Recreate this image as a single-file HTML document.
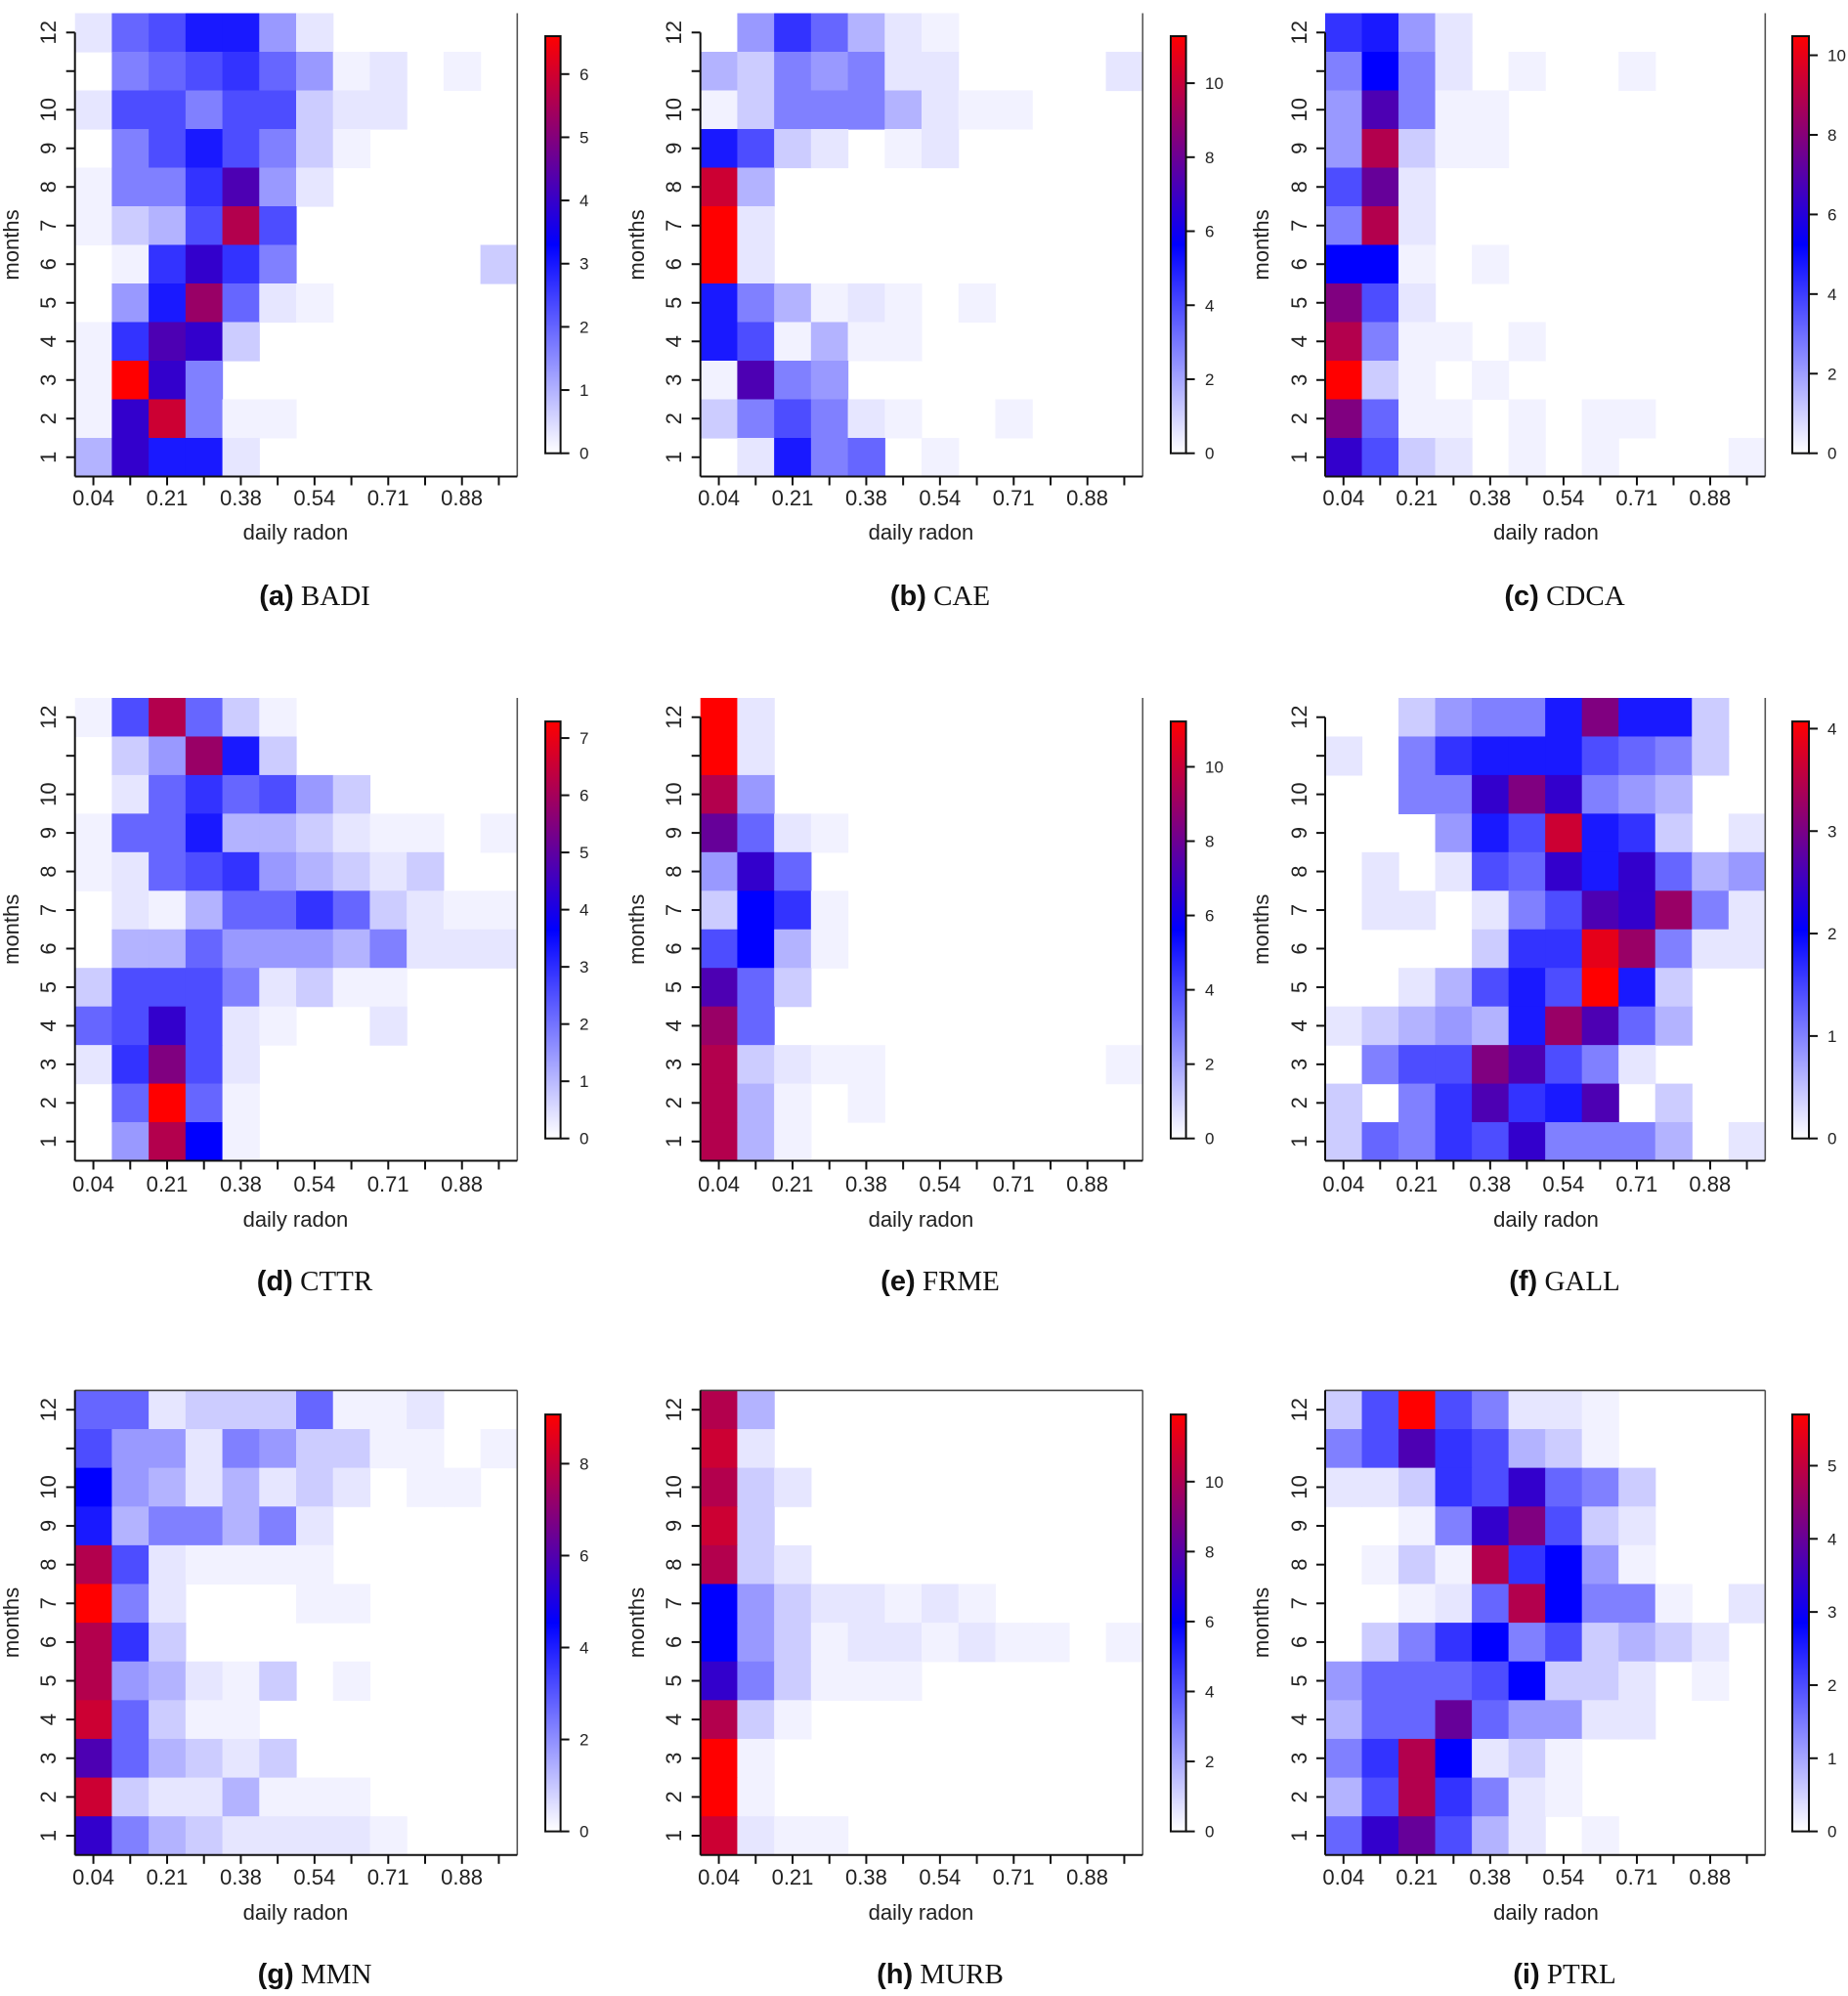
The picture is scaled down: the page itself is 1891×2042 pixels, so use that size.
<!DOCTYPE html>
<html><head><meta charset="utf-8"><style>
html,body{margin:0;padding:0;background:#fff}
svg{display:block}
.t{font-family:"Liberation Sans",sans-serif;font-size:22px;fill:#222}
.c{font-family:"Liberation Sans",sans-serif;font-size:17px;fill:#222}
.cap{font-size:29px;fill:#111}
.b{font-family:"Liberation Sans",sans-serif;font-weight:bold}
.s{font-family:"Liberation Serif",serif}
</style></head><body>
<svg id="s" xmlns="http://www.w3.org/2000/svg" width="1891" height="2042" viewBox="0 0 1891 2042">
<defs><linearGradient id="cg" x1="0" y1="1" x2="0" y2="0">
<stop offset="0" stop-color="#fff"/><stop offset="0.5" stop-color="#00f"/><stop offset="1" stop-color="#f00"/></linearGradient></defs>
<g id="gfx"></g>
<g class="t" text-anchor="middle">
<text x="95.6" y="517">0.04</text><text x="171" y="517">0.21</text><text x="246.4" y="517">0.38</text><text x="321.8" y="517">0.54</text><text x="397.2" y="517">0.71</text><text x="472.6" y="517">0.88</text>
<text x="735.6" y="517">0.04</text><text x="811" y="517">0.21</text><text x="886.4" y="517">0.38</text><text x="961.8" y="517">0.54</text><text x="1037.2" y="517">0.71</text><text x="1112.6" y="517">0.88</text>
<text x="1374.8" y="517">0.04</text><text x="1449.8" y="517">0.21</text><text x="1524.8" y="517">0.38</text><text x="1599.8" y="517">0.54</text><text x="1674.8" y="517">0.71</text><text x="1749.8" y="517">0.88</text>
<text x="95.6" y="1219">0.04</text><text x="171" y="1219">0.21</text><text x="246.4" y="1219">0.38</text><text x="321.8" y="1219">0.54</text><text x="397.2" y="1219">0.71</text><text x="472.6" y="1219">0.88</text>
<text x="735.6" y="1219">0.04</text><text x="811" y="1219">0.21</text><text x="886.4" y="1219">0.38</text><text x="961.8" y="1219">0.54</text><text x="1037.2" y="1219">0.71</text><text x="1112.6" y="1219">0.88</text>
<text x="1374.8" y="1219">0.04</text><text x="1449.8" y="1219">0.21</text><text x="1524.8" y="1219">0.38</text><text x="1599.8" y="1219">0.54</text><text x="1674.8" y="1219">0.71</text><text x="1749.8" y="1219">0.88</text>
<text x="95.6" y="1928">0.04</text><text x="171" y="1928">0.21</text><text x="246.4" y="1928">0.38</text><text x="321.8" y="1928">0.54</text><text x="397.2" y="1928">0.71</text><text x="472.6" y="1928">0.88</text>
<text x="735.6" y="1928">0.04</text><text x="811" y="1928">0.21</text><text x="886.4" y="1928">0.38</text><text x="961.8" y="1928">0.54</text><text x="1037.2" y="1928">0.71</text><text x="1112.6" y="1928">0.88</text>
<text x="1374.8" y="1928">0.04</text><text x="1449.8" y="1928">0.21</text><text x="1524.8" y="1928">0.38</text><text x="1599.8" y="1928">0.54</text><text x="1674.8" y="1928">0.71</text><text x="1749.8" y="1928">0.88</text>
<text x="302.4" y="552">daily radon</text><text x="942.4" y="552">daily radon</text><text x="1582" y="552">daily radon</text>
<text x="302.4" y="1255">daily radon</text><text x="942.4" y="1255">daily radon</text><text x="1582" y="1255">daily radon</text>
<text x="302.4" y="1964">daily radon</text><text x="942.4" y="1964">daily radon</text><text x="1582" y="1964">daily radon</text>
<text transform="translate(19,250.5) rotate(-90)">months</text><text transform="translate(659,250.5) rotate(-90)">months</text><text transform="translate(1298,250.5) rotate(-90)">months</text>
<text transform="translate(19,950.8) rotate(-90)">months</text><text transform="translate(659,950.8) rotate(-90)">months</text><text transform="translate(1298,950.8) rotate(-90)">months</text>
<text transform="translate(19,1660) rotate(-90)">months</text><text transform="translate(659,1660) rotate(-90)">months</text><text transform="translate(1298,1660) rotate(-90)">months</text>
<g transform="translate(57,0)"><text transform="translate(0,467.75) rotate(-90)">1</text><text transform="translate(0,428.25) rotate(-90)">2</text><text transform="translate(0,388.75) rotate(-90)">3</text><text transform="translate(0,349.25) rotate(-90)">4</text><text transform="translate(0,309.75) rotate(-90)">5</text><text transform="translate(0,270.25) rotate(-90)">6</text><text transform="translate(0,230.75) rotate(-90)">7</text><text transform="translate(0,191.25) rotate(-90)">8</text><text transform="translate(0,151.75) rotate(-90)">9</text><text transform="translate(0,112.25) rotate(-90)">10</text><text transform="translate(0,33.25) rotate(-90)">12</text></g>
<g transform="translate(697,0)"><text transform="translate(0,467.75) rotate(-90)">1</text><text transform="translate(0,428.25) rotate(-90)">2</text><text transform="translate(0,388.75) rotate(-90)">3</text><text transform="translate(0,349.25) rotate(-90)">4</text><text transform="translate(0,309.75) rotate(-90)">5</text><text transform="translate(0,270.25) rotate(-90)">6</text><text transform="translate(0,230.75) rotate(-90)">7</text><text transform="translate(0,191.25) rotate(-90)">8</text><text transform="translate(0,151.75) rotate(-90)">9</text><text transform="translate(0,112.25) rotate(-90)">10</text><text transform="translate(0,33.25) rotate(-90)">12</text></g>
<g transform="translate(1337,0)"><text transform="translate(0,467.75) rotate(-90)">1</text><text transform="translate(0,428.25) rotate(-90)">2</text><text transform="translate(0,388.75) rotate(-90)">3</text><text transform="translate(0,349.25) rotate(-90)">4</text><text transform="translate(0,309.75) rotate(-90)">5</text><text transform="translate(0,270.25) rotate(-90)">6</text><text transform="translate(0,230.75) rotate(-90)">7</text><text transform="translate(0,191.25) rotate(-90)">8</text><text transform="translate(0,151.75) rotate(-90)">9</text><text transform="translate(0,112.25) rotate(-90)">10</text><text transform="translate(0,33.25) rotate(-90)">12</text></g>
<g transform="translate(57,0)"><text transform="translate(0,1167.8) rotate(-90)">1</text><text transform="translate(0,1128.3) rotate(-90)">2</text><text transform="translate(0,1088.9) rotate(-90)">3</text><text transform="translate(0,1049.4) rotate(-90)">4</text><text transform="translate(0,1010) rotate(-90)">5</text><text transform="translate(0,970.5) rotate(-90)">6</text><text transform="translate(0,931) rotate(-90)">7</text><text transform="translate(0,891.6) rotate(-90)">8</text><text transform="translate(0,852.1) rotate(-90)">9</text><text transform="translate(0,812.6) rotate(-90)">10</text><text transform="translate(0,733.7) rotate(-90)">12</text></g>
<g transform="translate(697,0)"><text transform="translate(0,1167.8) rotate(-90)">1</text><text transform="translate(0,1128.3) rotate(-90)">2</text><text transform="translate(0,1088.9) rotate(-90)">3</text><text transform="translate(0,1049.4) rotate(-90)">4</text><text transform="translate(0,1010) rotate(-90)">5</text><text transform="translate(0,970.5) rotate(-90)">6</text><text transform="translate(0,931) rotate(-90)">7</text><text transform="translate(0,891.6) rotate(-90)">8</text><text transform="translate(0,852.1) rotate(-90)">9</text><text transform="translate(0,812.6) rotate(-90)">10</text><text transform="translate(0,733.7) rotate(-90)">12</text></g>
<g transform="translate(1337,0)"><text transform="translate(0,1167.8) rotate(-90)">1</text><text transform="translate(0,1128.3) rotate(-90)">2</text><text transform="translate(0,1088.9) rotate(-90)">3</text><text transform="translate(0,1049.4) rotate(-90)">4</text><text transform="translate(0,1010) rotate(-90)">5</text><text transform="translate(0,970.5) rotate(-90)">6</text><text transform="translate(0,931) rotate(-90)">7</text><text transform="translate(0,891.6) rotate(-90)">8</text><text transform="translate(0,852.1) rotate(-90)">9</text><text transform="translate(0,812.6) rotate(-90)">10</text><text transform="translate(0,733.7) rotate(-90)">12</text></g>
<g transform="translate(57,0)"><text transform="translate(0,1878) rotate(-90)">1</text><text transform="translate(0,1838.4) rotate(-90)">2</text><text transform="translate(0,1798.8) rotate(-90)">3</text><text transform="translate(0,1759.1) rotate(-90)">4</text><text transform="translate(0,1719.5) rotate(-90)">5</text><text transform="translate(0,1679.9) rotate(-90)">6</text><text transform="translate(0,1640.3) rotate(-90)">7</text><text transform="translate(0,1600.6) rotate(-90)">8</text><text transform="translate(0,1561) rotate(-90)">9</text><text transform="translate(0,1521.4) rotate(-90)">10</text><text transform="translate(0,1442.2) rotate(-90)">12</text></g>
<g transform="translate(697,0)"><text transform="translate(0,1878) rotate(-90)">1</text><text transform="translate(0,1838.4) rotate(-90)">2</text><text transform="translate(0,1798.8) rotate(-90)">3</text><text transform="translate(0,1759.1) rotate(-90)">4</text><text transform="translate(0,1719.5) rotate(-90)">5</text><text transform="translate(0,1679.9) rotate(-90)">6</text><text transform="translate(0,1640.3) rotate(-90)">7</text><text transform="translate(0,1600.6) rotate(-90)">8</text><text transform="translate(0,1561) rotate(-90)">9</text><text transform="translate(0,1521.4) rotate(-90)">10</text><text transform="translate(0,1442.2) rotate(-90)">12</text></g>
<g transform="translate(1337,0)"><text transform="translate(0,1878) rotate(-90)">1</text><text transform="translate(0,1838.4) rotate(-90)">2</text><text transform="translate(0,1798.8) rotate(-90)">3</text><text transform="translate(0,1759.1) rotate(-90)">4</text><text transform="translate(0,1719.5) rotate(-90)">5</text><text transform="translate(0,1679.9) rotate(-90)">6</text><text transform="translate(0,1640.3) rotate(-90)">7</text><text transform="translate(0,1600.6) rotate(-90)">8</text><text transform="translate(0,1561) rotate(-90)">9</text><text transform="translate(0,1521.4) rotate(-90)">10</text><text transform="translate(0,1442.2) rotate(-90)">12</text></g>
</g>
<g class="c">
<g transform="translate(593,6)"><text y="463.7">0</text><text y="399">1</text><text y="334.4">2</text><text y="269.7">3</text><text y="205.1">4</text><text y="140.4">5</text><text y="75.8">6</text></g>
<g transform="translate(1233,6)"><text y="463.7">0</text><text y="388">2</text><text y="312.3">4</text><text y="236.5">6</text><text y="160.8">8</text><text y="85.1">10</text></g>
<g transform="translate(1870,6)"><text y="463.7">0</text><text y="382.3">2</text><text y="300.8">4</text><text y="219.4">6</text><text y="138">8</text><text y="56.5">10</text></g>
<g transform="translate(593,6)"><text y="1164.7">0</text><text y="1106.2">1</text><text y="1047.7">2</text><text y="989.1">3</text><text y="930.6">4</text><text y="872.1">5</text><text y="813.6">6</text><text y="755.1">7</text></g>
<g transform="translate(1233,6)"><text y="1164.7">0</text><text y="1088.7">2</text><text y="1012.6">4</text><text y="936.6">6</text><text y="860.5">8</text><text y="784.5">10</text></g>
<g transform="translate(1870,6)"><text y="1164.7">0</text><text y="1059.9">1</text><text y="955.1">2</text><text y="850.3">3</text><text y="745.5">4</text></g>
<g transform="translate(593,6)"><text y="1873.6">0</text><text y="1779.6">2</text><text y="1685.5">4</text><text y="1591.5">6</text><text y="1497.4">8</text></g>
<g transform="translate(1233,6)"><text y="1873.6">0</text><text y="1802">2</text><text y="1730.5">4</text><text y="1658.9">6</text><text y="1587.4">8</text><text y="1515.8">10</text></g>
<g transform="translate(1870,6)"><text y="1873.6">0</text><text y="1798.8">1</text><text y="1724">2</text><text y="1649.2">3</text><text y="1574.3">4</text><text y="1499.5">5</text></g>
</g>
<g class="cap" text-anchor="middle">
<text x="322" y="619"><tspan class="b">(a)</tspan><tspan class="s"> BADI</tspan></text>
<text x="962" y="619"><tspan class="b">(b)</tspan><tspan class="s"> CAE</tspan></text>
<text x="1601" y="619"><tspan class="b">(c)</tspan><tspan class="s"> CDCA</tspan></text>
<text x="322" y="1320"><tspan class="b">(d)</tspan><tspan class="s"> CTTR</tspan></text>
<text x="962" y="1320"><tspan class="b">(e)</tspan><tspan class="s"> FRME</tspan></text>
<text x="1601" y="1320"><tspan class="b">(f)</tspan><tspan class="s"> GALL</tspan></text>
<text x="322" y="2029"><tspan class="b">(g)</tspan><tspan class="s"> MMN</tspan></text>
<text x="962" y="2029"><tspan class="b">(h)</tspan><tspan class="s"> MURB</tspan></text>
<text x="1601" y="2029"><tspan class="b">(i)</tspan><tspan class="s"> PTRL</tspan></text>
</g>
</svg>
<script>
var LV={'0':0,'1':0.5,'2':1,'3':2,'4':3,'5':4,'6':5,'7':6,'8':7,'9':8,'a':9,'b':10,'c':12,'d':13,'e':14,'f':15,'g':16,'h':17,'i':18,'j':19,'k':20};
function col(ch){var v=LV[ch];var r,g,b;if(v<=10){var c=Math.round(255*(1-v/10));r=c;g=c;b=255;}else{var t=(v-10)/10;r=Math.round(255*t);g=0;b=Math.round(255*(1-t));}return 'rgb('+r+','+g+','+b+')';}
var D={
a:["278aa5200000","067897512010","288688322000","068a86310000","1669d5200000","1348h8000000","019c96000003","05ag72100000","19dc30000000","1kc600000000","1ci611000000","4caa20000000"],
b:["059742100000","436562200002","136664211000","a83201200000","i40000000000","k20000000000","k20000000000","a64121010000","a81411000000","1d6500000000","368621001000","02a670100000"],
c:["9a5200000000","6b6201001000","5d6110000000","5h3110000000","8e2000000000","6h2000000000","bb1010000000","f82000000000","h61101000000","k31010000000","f71101011000","c83201010001"],
d:["18h731000000","035ga3000000","027978530000","177a44321101","127895432300","021477973211","044755546222","388862311000","78c821002000","29f820000000","07k710000000","05hb10000000"],
e:["k20000000000","k20000000000","h50000000000","e72100000000","5c7000000000","3b9100000000","8b4100000000","d73000000000","g70000000000","h32110000001","h41010000000","h41000000000"],
f:["003566afaa30","2069aaa87630","0066cfc65400","0005a8ia9302","020287cac745","0220268dcg62","0000399jg622","00248a8ka300","23454agd7400","0688fd862000","3069d9ad0300","37698c666402"],
g:["772333711200","855265331101","b54242320110","a46646200000","h82111100000","k62000110000","h93000000000","h54213010000","i73110000000","d74323000000","i32241110000","c64322221000"],
h:["h40000000000","i20000000000","h32000000000","i30000000000","h32000000000","b53221210000","b53122121101","c63111000000","h31000000000","k10000000000","k10000000000","i21100000000"],
i:["38k862210000","68d984310000","22398c763000","0016cf832000","0131h9b51000","00127hb66102","0369b6834320","57778b332010","477e75522000","69hb23100000","48h962100000","7ce842010000"]};
var cols=[{L:76.7,R:529.3,cb:[558,573.6]},{L:716.7,R:1169.3,cb:[1198,1213.6]},{L:1356,R:1806.3,cb:[1834,1851]}];
var rows=[{T:13.5,B:487.5,cb:[37,463.7],top:false},{T:714,B:1187.5,cb:[738.1,1164.7],top:false},{T:1422.4,B:1897.8,cb:[1447.1,1873.6],top:true}];
var keys="abcdefghi";var out=[];
for(var p=0;p<9;p++){var C=cols[p%3],Rw=rows[Math.floor(p/3)],d=D[keys[p]];
var w=(C.R-C.L)/12,h=(Rw.B-Rw.T)/12;
for(var r=0;r<12;r++)for(var k=0;k<12;k++){var ch=d[r][k];if(ch==='0')continue;
out.push('<rect x="'+(C.L+k*w).toFixed(2)+'" y="'+(Rw.T+r*h).toFixed(2)+'" width="'+(w+0.6).toFixed(2)+'" height="'+(h+0.6).toFixed(2)+'" fill="'+col(ch)+'"/>');}
var yt12=Rw.B-11.5*h;
out.push('<line x1="'+C.R+'" y1="'+Rw.T+'" x2="'+C.R+'" y2="'+Rw.B+'" stroke="#555" stroke-width="1.6"/>');
if(Rw.top)out.push('<line x1="'+C.L+'" y1="'+Rw.T+'" x2="'+C.R+'" y2="'+Rw.T+'" stroke="#444" stroke-width="1.6"/>');
out.push('<line x1="'+C.L+'" y1="'+(Rw.top?Rw.T:yt12)+'" x2="'+C.L+'" y2="'+Rw.B+'" stroke="#111" stroke-width="2"/>');
for(var m=1;m<=12;m++){var y=Rw.B-(m-0.5)*h;out.push('<line x1="'+(C.L-9)+'" y1="'+y+'" x2="'+C.L+'" y2="'+y+'" stroke="#111" stroke-width="2"/>');}
out.push('<line x1="'+C.L+'" y1="'+Rw.B+'" x2="'+C.R+'" y2="'+Rw.B+'" stroke="#111" stroke-width="2"/>');
for(var k=0;k<12;k++){var x=C.L+(k+0.5)*w;out.push('<line x1="'+x+'" y1="'+Rw.B+'" x2="'+x+'" y2="'+(Rw.B+9)+'" stroke="#111" stroke-width="2"/>');}
var cx0=C.cb[0],cx1=C.cb[1],cy0=Rw.cb[0],cy1=Rw.cb[1];
out.push('<rect x="'+cx0+'" y="'+cy0+'" width="'+(cx1-cx0)+'" height="'+(cy1-cy0)+'" fill="url(#cg)" stroke="#111" stroke-width="2"/>');
}
var mx=[6.6,11.27,10.48,7.29,11.22,4.07,9.07,11.92,5.7],st=[1,2,2,1,2,1,2,2,1];
for(var p=0;p<9;p++){var C=cols[p%3],Rw=rows[Math.floor(p/3)];var cy0=Rw.cb[0],cy1=Rw.cb[1];
for(var v=0;v<=mx[p];v+=st[p]){var y=cy1-v*(cy1-cy0)/mx[p];out.push('<line x1="'+C.cb[1]+'" y1="'+y+'" x2="'+(C.cb[1]+9)+'" y2="'+y+'" stroke="#111" stroke-width="2"/>');}}
document.getElementById('gfx').innerHTML=out.join('');
</script>
</body></html>
